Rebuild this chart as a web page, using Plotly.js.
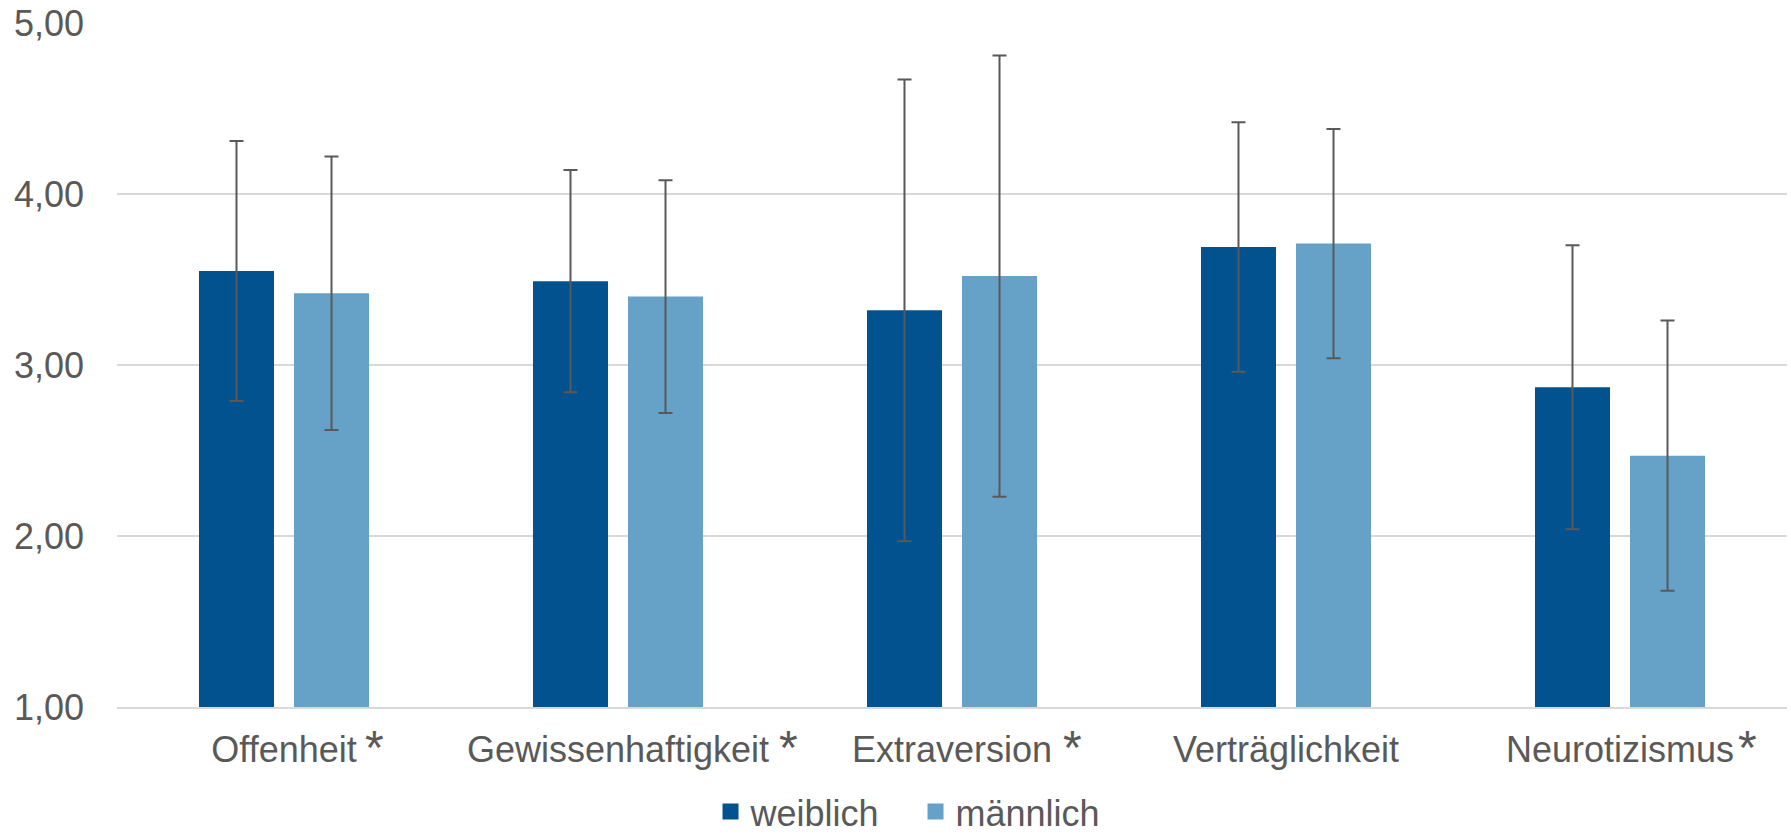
<!DOCTYPE html>
<html>
<head>
<meta charset="utf-8">
<script src="https://cdn.plot.ly/plotly-3.0.1.min.js"></script>
<style>
  html, body { margin: 0; padding: 0; background: #ffffff; }
  #chart { width: 1791px; height: 835px; }
</style>
</head>
<body>
<div id="chart"></div>
<script>
// ---- data ----
const categories = ['Offenheit', 'Gewissenhaftigkeit', 'Extraversion', 'Verträglichkeit', 'Neurotizismus'];
const seriesNames = ['weiblich', 'männlich'];
const weiblich = [3.55, 3.49, 3.32, 3.69, 2.87];
const weiblichSD = [0.76, 0.65, 1.35, 0.73, 0.83];
const maennlich = [3.42, 3.40, 3.52, 3.71, 2.47];
const maennlichSD = [0.80, 0.68, 1.29, 0.67, 0.79];
const significant = [true, true, true, false, true];
const tickValues = [1, 2, 3, 4, 5];

// ---- styles ----
const FONT = '"Liberation Sans", Arial, sans-serif';
const TEXT = '#595959';
const GRID = '#d9d9d9';
const COLORS = ['#02528f', '#66a1c8'];
const asteriskShift = [79, 159, 109, 0, 116];

const errStyle = { type: 'data', visible: true, color: '#595959', thickness: 2, width: 7 };

const valueSets = [weiblich, maennlich];
const sdSets = [weiblichSD, maennlichSD];

const traces = [];
seriesNames.forEach((name, k) => {
  traces.push({
    type: 'bar', name: name, x: categories, y: valueSets[k],
    marker: { color: COLORS[k] },
    error_y: Object.assign({ array: sdSets[k] }, errStyle),
    showlegend: false, legendgroup: name,
    hoverinfo: 'x+y'
  });
});
// legend entries (square swatches)
seriesNames.forEach((name, k) => {
  traces.push({
    type: 'scatter', mode: 'markers', name: name, x: [null], y: [null],
    marker: { symbol: 'square', size: 19, color: COLORS[k] },
    showlegend: true, legendgroup: name, hoverinfo: 'skip'
  });
});

const annotations = [];
categories.forEach((c, i) => {
  if (significant[i]) {
    annotations.push({
      xref: 'x', yref: 'paper', x: c, y: 0,
      xanchor: 'left', yanchor: 'top',
      xshift: asteriskShift[i], yshift: -12,
      text: '*', showarrow: false,
      font: { family: FONT, size: 48, color: TEXT }
    });
  }
});

const layout = {
  width: 1791, height: 835,
  margin: { l: 117, r: 4, t: 23, b: 128, pad: 0, autoexpand: false },
  paper_bgcolor: '#ffffff', plot_bgcolor: '#ffffff',
  font: { family: FONT, size: 36, color: TEXT },
  separators: ',.',
  barmode: 'group',
  bargap: 0.431,
  bargroupgap: 0.2105,
  showlegend: true,
  legend: {
    orientation: 'h', x: 0.3554, xanchor: 'left', y: -0.1090, yanchor: 'top',
    font: { family: FONT, size: 36, color: TEXT },
    entrywidth: 160, traceorder: 'normal', itemsizing: 'trace',
    bgcolor: 'rgba(0,0,0,0)'
  },
  xaxis: {
    type: 'category', automargin: false,
    showgrid: false, zeroline: false,
    showline: true, linecolor: GRID, linewidth: 2,
    ticks: '', ticklabelstandoff: 10,
    tickfont: { family: FONT, size: 36, color: TEXT }
  },
  yaxis: {
    range: [1, 5], automargin: false,
    tickvals: tickValues, tickformat: '.2f',
    showgrid: true, gridcolor: GRID, gridwidth: 2,
    zeroline: false, showline: false,
    ticks: '', ticklabelstandoff: 32,
    tickfont: { family: FONT, size: 36, color: TEXT }
  },
  annotations: annotations
};

Plotly.newPlot('chart', traces, layout, { staticPlot: true, displayModeBar: false });
</script>
</body>
</html>
